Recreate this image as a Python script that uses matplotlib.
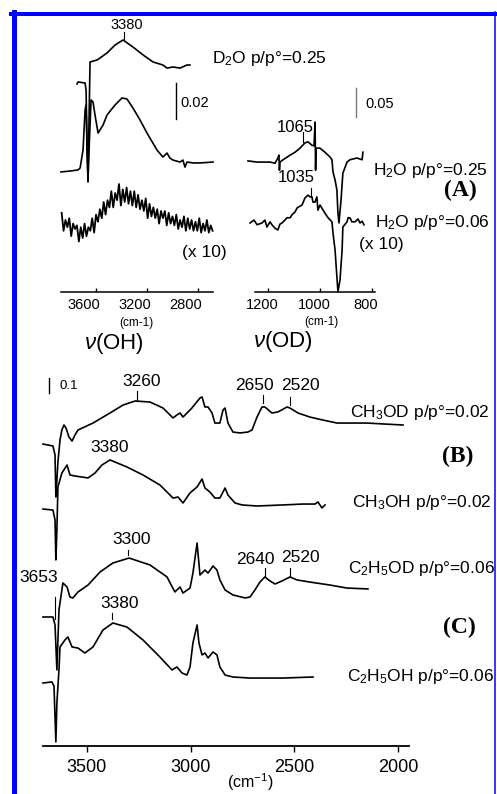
import matplotlib
matplotlib.use("Agg")
import matplotlib.pyplot as plt
import numpy as np
from matplotlib.lines import Line2D
from matplotlib.transforms import ScaledTranslation

plt.rcParams['font.family'] = ['Liberation Sans', 'DejaVu Sans']
plt.rcParams['mathtext.fontset'] = 'custom'
plt.rcParams['mathtext.rm'] = 'Liberation Sans'
plt.rcParams['mathtext.it'] = 'Liberation Sans:italic'
plt.rcParams['mathtext.bf'] = 'Liberation Sans:bold'

# ---- panel A, nu(OH) region (absorbance) ----
oh_d2o_wn = [3749, 3741, 3686, 3678, 3671, 3663, 3655, 3647, 3592, 3569, 3514,
             3451, 3388, 3310, 3231, 3153, 3075, 3043, 2996, 2941, 2886, 2863]
oh_d2o_abs = [0.1156, 0.1167, 0.1161, 0.1122, 0.0789, 0.0611, 0.0956, 0.1278,
              0.1289, 0.1300, 0.1328, 0.1372, 0.1400, 0.1361, 0.1317, 0.1278,
              0.1261, 0.1244, 0.1250, 0.1244, 0.1261, 0.1261]

oh_h2o_wn = [3875, 3804, 3741, 3725, 3702, 3686, 3678, 3671, 3663, 3655, 3639,
             3624, 3608, 3584, 3545, 3514, 3451, 3396, 3357, 3310, 3255, 3200,
             3122, 3075, 3043, 3020, 2996, 2941, 2918, 2902, 2886, 2839, 2784, 2682]
oh_h2o_abs = [0.0667, 0.0672, 0.0678, 0.0689, 0.0789, 0.1011, 0.1039, 0.0844,
              0.0622, 0.0789, 0.1067, 0.1056, 0.0983, 0.0883, 0.0928, 0.0983,
              0.1039, 0.1078, 0.1072, 0.1022, 0.0956, 0.0883, 0.0789, 0.0750,
              0.0772, 0.0744, 0.0733, 0.0722, 0.0733, 0.0694, 0.0722, 0.0717,
              0.0717, 0.0722]

# low pressure H2O, shown x10
oh_low_wn = [3870, 3855, 3840, 3825, 3810, 3795, 3780, 3765, 3750, 3735,
             3720, 3705, 3690, 3675, 3660, 3645, 3630, 3615, 3600, 3585,
             3570, 3555, 3540, 3525, 3510, 3495, 3480, 3465, 3450, 3435,
             3420, 3405, 3390, 3375, 3360, 3345, 3330, 3315, 3300, 3285,
             3270, 3255, 3240, 3225, 3210, 3195, 3180, 3165, 3150, 3135,
             3120, 3105, 3090, 3075, 3060, 3045, 3030, 3015, 3000, 2985,
             2970, 2955, 2940, 2925, 2910, 2895, 2880, 2865, 2850, 2835,
             2820, 2805, 2790, 2775, 2760, 2745, 2730, 2715, 2700, 2685]
oh_low_abs = [0.044, 0.034, 0.040, 0.036, 0.041, 0.031, 0.038, 0.035, 0.037, 0.028,
              0.036, 0.030, 0.038, 0.031, 0.036, 0.034, 0.041, 0.033, 0.043, 0.039,
              0.046, 0.041, 0.050, 0.043, 0.051, 0.047, 0.056, 0.047, 0.055, 0.051,
              0.060, 0.048, 0.057, 0.050, 0.058, 0.049, 0.056, 0.048, 0.056, 0.047,
              0.054, 0.046, 0.051, 0.045, 0.052, 0.041, 0.049, 0.042, 0.047, 0.041,
              0.046, 0.038, 0.045, 0.041, 0.045, 0.037, 0.044, 0.038, 0.042, 0.037,
              0.043, 0.035, 0.040, 0.036, 0.042, 0.034, 0.041, 0.035, 0.040, 0.034,
              0.039, 0.034, 0.041, 0.033, 0.038, 0.034, 0.040, 0.033, 0.037, 0.034]

# ---- panel A, nu(OD) region ----
od_high_wn = [1277, 1242, 1192, 1173, 1162, 1158, 1156, 1154, 1142, 1115, 1096,
              1077, 1058, 1046, 1031, 1023, 1019, 1017, 1015, 1000, 981, 962,
              954, 950, 942, 935, 931, 927, 919, 912, 896, 885, 858, 838, 835]
od_high_abs = [0.226, 0.224, 0.224, 0.222, 0.231, 0.236, 0.210, 0.224, 0.228,
               0.236, 0.241, 0.248, 0.257, 0.259, 0.253, 0.252, 0.293, 0.210,
               0.248, 0.248, 0.241, 0.233, 0.228, 0.207, 0.193, 0.176, 0.136,
               0.119, 0.159, 0.205, 0.224, 0.228, 0.231, 0.228, 0.241]

od_low_wn = [1269, 1254, 1242, 1223, 1212, 1204, 1192, 1185, 1173, 1162,
             1154, 1146, 1135, 1127, 1115, 1108, 1096, 1088, 1077, 1069,
             1058, 1046, 1038, 1031, 1027, 1019, 1012, 1008, 1000, 981,
             969, 954, 950, 942, 935, 931, 923, 915, 912, 896,
             892, 885, 877, 865, 854, 846, 838, 831]
od_low_abs = [0.119, 0.124, 0.116, 0.119, 0.124, 0.112, 0.121, 0.116, 0.110, 0.107,
              0.117, 0.119, 0.124, 0.128, 0.128, 0.133, 0.138, 0.145, 0.148, 0.150,
              0.162, 0.167, 0.164, 0.164, 0.155, 0.155, 0.164, 0.141, 0.150, 0.136,
              0.128, 0.121, 0.102, 0.072, 0.026, 0.000, 0.021, 0.072, 0.112, 0.121,
              0.128, 0.128, 0.121, 0.121, 0.126, 0.119, 0.122, 0.116]

# ---- panels B and C ----
ch3od_wn = [3712, 3664, 3654, 3650, 3645, 3640, 3630, 3621, 3611, 3601, 3587,
            3572, 3558, 3543, 3471, 3389, 3326, 3268, 3196, 3133, 3085, 3066,
            3051, 3037, 2994, 2955, 2945, 2931, 2916, 2897, 2883, 2859, 2844,
            2834, 2820, 2796, 2762, 2724, 2704, 2680, 2656, 2642, 2608, 2579,
            2535, 2521, 2482, 2425, 2362, 2294, 2232, 2150, 2072, 1976]
ch3od_abs = [2.013, 2.000, 1.940, 1.660, 1.773, 1.893, 2.040, 2.107, 2.140, 2.120,
             2.060, 2.033, 2.073, 2.107, 2.153, 2.220, 2.273, 2.300, 2.293, 2.253,
             2.187, 2.207, 2.220, 2.193, 2.253, 2.320, 2.327, 2.260, 2.260, 2.220,
             2.153, 2.153, 2.240, 2.253, 2.153, 2.093, 2.087, 2.093, 2.107, 2.193,
             2.260, 2.260, 2.220, 2.227, 2.260, 2.253, 2.220, 2.193, 2.173, 2.153,
             2.153, 2.153, 2.147, 2.140]

ch3oh_wn = [3712, 3664, 3654, 3650, 3645, 3640, 3621, 3596, 3582, 3558, 3524,
            3495, 3461, 3428, 3389, 3307, 3230, 3148, 3085, 3061, 3037, 3003,
            2969, 2945, 2931, 2907, 2883, 2859, 2834, 2820, 2786, 2752, 2680,
            2555, 2458, 2400, 2386, 2367, 2352]
ch3oh_abs = [1.580, 1.573, 1.507, 1.240, 1.440, 1.727, 1.820, 1.873, 1.807, 1.800,
             1.793, 1.787, 1.820, 1.873, 1.907, 1.860, 1.807, 1.740, 1.653, 1.660,
             1.620, 1.687, 1.727, 1.780, 1.720, 1.693, 1.653, 1.653, 1.720, 1.673,
             1.620, 1.607, 1.600, 1.607, 1.613, 1.613, 1.627, 1.587, 1.607]

c2h5od_wn = [3712, 3664, 3654, 3645, 3640, 3635, 3616, 3596, 3582, 3568, 3543,
             3495, 3437, 3375, 3297, 3196, 3114, 3076, 3051, 3037, 3003, 2989,
             2969, 2955, 2931, 2916, 2892, 2873, 2859, 2834, 2796, 2738, 2714,
             2690, 2666, 2642, 2617, 2593, 2560, 2521, 2487, 2425, 2328, 2246, 2145]
c2h5od_abs = [0.860, 0.860, 0.807, 0.507, 0.707, 0.907, 1.087, 1.060, 0.993, 0.987,
              1.027, 1.073, 1.160, 1.220, 1.253, 1.207, 1.127, 1.027, 1.060, 1.020,
              1.053, 1.153, 1.353, 1.140, 1.173, 1.153, 1.200, 1.173, 1.107, 1.040,
              1.007, 0.987, 0.993, 1.040, 1.093, 1.127, 1.100, 1.080, 1.100, 1.127,
              1.107, 1.093, 1.073, 1.053, 1.047]

c2h5oh_wn = [3712, 3669, 3659, 3650, 3645, 3635, 3630, 3606, 3592, 3572, 3543,
             3510, 3471, 3423, 3375, 3307, 3230, 3148, 3090, 3066, 3042, 3018,
             3003, 2989, 2969, 2960, 2945, 2931, 2916, 2892, 2873, 2859, 2834,
             2796, 2714, 2555, 2410]
c2h5oh_abs = [0.420, 0.427, 0.400, 0.027, 0.287, 0.507, 0.660, 0.707, 0.727, 0.660,
              0.653, 0.620, 0.660, 0.773, 0.820, 0.793, 0.707, 0.593, 0.507, 0.527,
              0.487, 0.473, 0.527, 0.687, 0.807, 0.687, 0.607, 0.620, 0.587, 0.627,
              0.607, 0.527, 0.473, 0.460, 0.453, 0.453, 0.460]

oh_ticks = [3600, 3200, 2800]
od_ticks = [1200, 1000, 800]
bc_ticks = [3500, 3000, 2500, 2000]

W, H, DPI = 497, 794, 100
fig = plt.figure(figsize=(W / DPI, H / DPI), dpi=DPI)


def fx(px):
    return px / W


def fy(py):
    return 1 - py / H


def setup(ax, xlim, ylim, ticks):
    ax.set_xlim(*xlim)
    ax.set_ylim(*ylim)
    ax.patch.set_alpha(0)
    for s in ['top', 'left', 'right']:
        ax.spines[s].set_visible(False)
    ax.spines['bottom'].set_linewidth(1.1)
    ax.set_yticks([])
    ax.set_xticks(ticks)
    ax.set_xticklabels([str(t) for t in ticks])


def trace(ax, x, y, lw=1.2):
    ax.plot(x, y, color='black', lw=lw, clip_on=False, solid_joinstyle='round')


def peak_tick(ax, x, y, peak, gap, length, lw=0.8):
    base = np.interp(peak, x[::-1], y[::-1]) + gap
    ax.plot([peak, peak], [base, base + length], color='black', lw=lw, clip_on=False)


def scale_bar(ax, x, y0, size, color='black'):
    ax.plot([x, x], [y0, y0 + size], color=color, lw=1.0, clip_on=False)


def shift_labels(ax, dx_px):
    off = ScaledTranslation(dx_px / DPI, 0, fig.dpi_scale_trans)
    for lab in ax.get_xticklabels():
        lab.set_transform(lab.get_transform() + off)


# nu(OH) panel
ax_oh = fig.add_axes([fx(61), fy(292), 152 / W, 270 / H])
setup(ax_oh, (3875, 2682), (0, 0.15), oh_ticks)
ax_oh.tick_params(axis='x', direction='in', length=3, width=1, pad=4, labelsize=10.5)
trace(ax_oh, oh_d2o_wn, oh_d2o_abs)
trace(ax_oh, oh_h2o_wn, oh_h2o_abs)
trace(ax_oh, oh_low_wn, oh_low_abs, lw=1.3)
peak_tick(ax_oh, oh_d2o_wn, oh_d2o_abs, 3380, 0.001, 0.004)
scale_bar(ax_oh, 2973, 0.0961, 0.02)
shift_labels(ax_oh, -12)

# nu(OD) panel
ax_od = fig.add_axes([fx(240), fy(292), 140 / W, 270 / H])
setup(ax_od, (1307.7, 769.2), (0, 270 / 580), od_ticks)
ax_od.spines['bottom'].set_bounds(1250, 788)
ax_od.tick_params(axis='x', direction='in', length=3, width=1, pad=4, labelsize=10.5)
trace(ax_od, od_high_wn, od_high_abs)
trace(ax_od, od_low_wn, od_low_abs)
peak_tick(ax_od, od_high_wn, od_high_abs, 1065, 0.005, 0.017)
peak_tick(ax_od, od_low_wn, od_low_abs, 1035, 0.001, 0.015)
scale_bar(ax_od, 862, 0.302, 0.05, color='#777777')
shift_labels(ax_od, -6)

# panels B / C
ax_b = fig.add_axes([fx(43), fy(746), 366 / W, 376 / H])
setup(ax_b, (3712, 1947), (0, 376 / 150), bc_ticks)
ax_b.spines['bottom'].set_linewidth(1.3)
ax_b.tick_params(axis='x', direction='out', length=4.5, width=1, pad=5, labelsize=13)
trace(ax_b, ch3od_wn, ch3od_abs)
trace(ax_b, ch3oh_wn, ch3oh_abs)
trace(ax_b, c2h5od_wn, c2h5od_abs)
trace(ax_b, c2h5oh_wn, c2h5oh_abs)
peak_tick(ax_b, ch3od_wn, ch3od_abs, 3260, 0.01, 0.055)
peak_tick(ax_b, ch3od_wn, ch3od_abs, 2650, 0.025, 0.055)
peak_tick(ax_b, ch3od_wn, ch3od_abs, 2520, 0.02, 0.055)
peak_tick(ax_b, c2h5od_wn, c2h5od_abs, 3300, 0.02, 0.035)
peak_tick(ax_b, c2h5od_wn, c2h5od_abs, 2640, 0.0, 0.06)
peak_tick(ax_b, c2h5od_wn, c2h5od_abs, 2520, 0.0, 0.06)
peak_tick(ax_b, c2h5od_wn, c2h5od_abs, 3653, 0.07, 0.15)
peak_tick(ax_b, c2h5oh_wn, c2h5oh_abs, 3380, 0.03, 0.04)
scale_bar(ax_b, 3683, 2.353, 0.1)


# text
def t(px, py, s, size=12.5, ha='center', va='center', **kw):
    fig.text(fx(px), fy(py), s, fontsize=size, ha=ha, va=va, **kw)


t(127, 25, '3380', 10.5)
t(212, 58, 'D$_2$O p/p°=0.25', 12.5, ha='left')
t(180, 103, '0.02', 10.5, ha='left')
t(204, 252, '(x 10)', 12.5)
t(136, 323, '(cm-1)', 8.5)
t(114, 343, r'$\mathit{\nu}$(OH)', 16)

t(365, 104, '0.05', 10.5, ha='left')
t(295, 128, '1065', 12)
t(296, 178, '1035', 12)
t(373, 171, 'H$_2$O p/p°=0.25', 12.5, ha='left')
t(460, 190, '(A)', 17, family='Liberation Serif', weight='bold')
t(375, 222, 'H$_2$O p/p°=0.06', 12.5, ha='left')
t(381, 244, '(x 10)', 12.5)
t(321, 322, '(cm-1)', 8.5)
t(283, 342, r'$\mathit{\nu}$(OD)', 16)

t(59, 386, '0.1', 9.5, ha='left')
t(142, 382, '3260')
t(254, 386, '2650')
t(300, 386, '2520')
t(350, 412, 'CH$_3$OD p/p°=0.02', ha='left')
t(458, 456, '(B)', 17, family='Liberation Serif', weight='bold')
t(110, 448, '3380')
t(352, 503, 'CH$_3$OH p/p°=0.02', ha='left')
t(132, 540, '3300')
t(255, 559, '2640')
t(300, 558, '2520')
t(348, 568, 'C$_2$H$_5$OD p/p°=0.06', ha='left')
t(39, 578, '3653')
t(120, 604, '3380')
t(459, 627, '(C)', 17, family='Liberation Serif', weight='bold')
t(347, 677, 'C$_2$H$_5$OH p/p°=0.06', ha='left')
t(250, 782, '(cm$^{-1}$)', 11.5)

# blue frame
blue = '#0000ff'
fig.add_artist(Line2D([fx(13.5), fx(13.5)], [fy(12), 0], color=blue, lw=3.6))
fig.add_artist(Line2D([fx(11), fx(495)], [fy(14), fy(14)], color=blue, lw=2.9))
fig.add_artist(Line2D([fx(494.5), fx(494.5)], [fy(12), 0], color=blue, lw=1.1))

fig.savefig('out.png', dpi=DPI)
